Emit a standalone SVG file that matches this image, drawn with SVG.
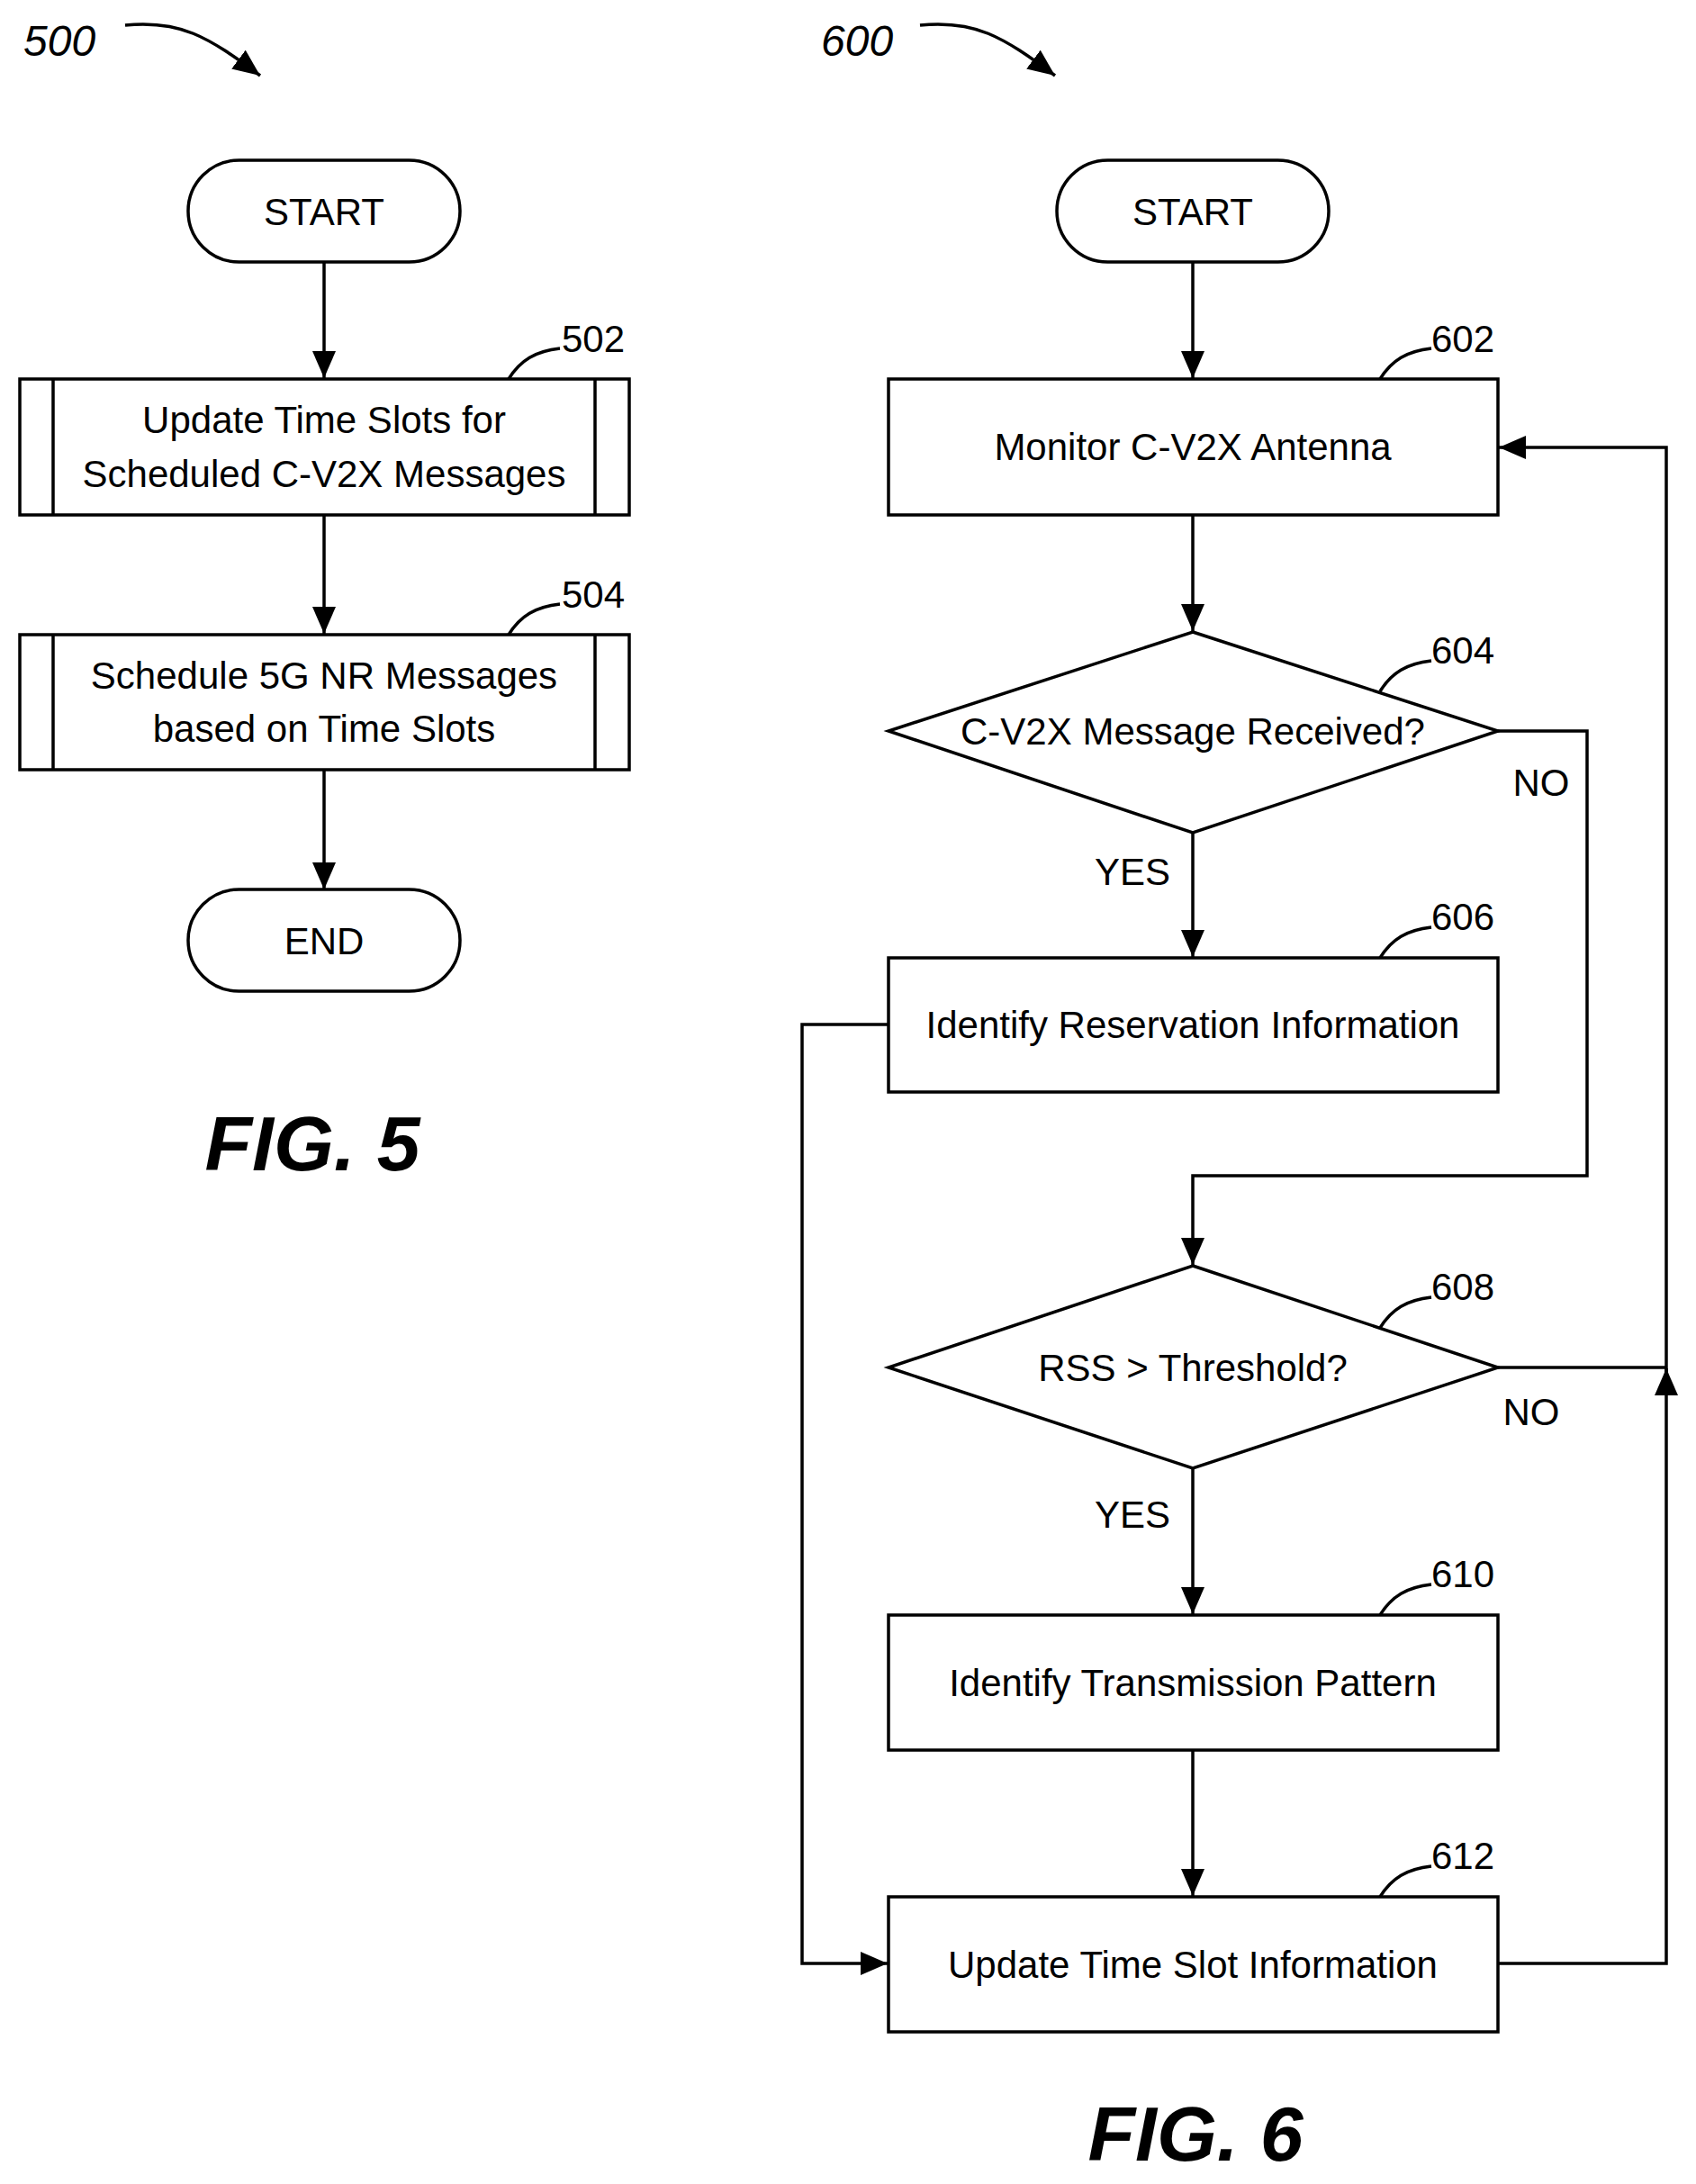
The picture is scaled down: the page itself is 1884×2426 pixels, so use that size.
<svg xmlns="http://www.w3.org/2000/svg" width="1884" height="2426" viewBox="0 0 1884 2426">
<style>
.s{fill:none;stroke:#000;stroke-width:3.5}
.b{fill:#fff;stroke:#000;stroke-width:3.5}
.t{font-family:"Liberation Sans",Arial,sans-serif;font-size:42px;text-anchor:middle;dominant-baseline:central}
.r{font-family:"Liberation Sans",Arial,sans-serif;font-size:42px;dominant-baseline:central}
.i{font-family:"Liberation Sans",Arial,sans-serif;font-size:48px;font-style:italic}
.f{font-family:"Liberation Sans",Arial,sans-serif;font-size:86px;font-style:italic;font-weight:bold;text-anchor:middle}
</style>
<defs>
<marker id="h" markerWidth="30" markerHeight="26" refX="30" refY="13" orient="auto" markerUnits="userSpaceOnUse">
<path d="M0,0 L30,13 L0,26 z" fill="#000"/>
</marker>
</defs>
<text class="i" x="26" y="62">500</text>
<text class="i" x="912" y="62">600</text>
<g id="connectors">
<path class="s" d="M139,28 C200,22 230,40 289,84" marker-end="url(#h)"/>
<path class="s" d="M1022,28 C1083,22 1113,40 1172,84" marker-end="url(#h)"/>
<path class="s" d="M360,292 V420" marker-end="url(#h)"/>
<path class="s" d="M360,572 V704" marker-end="url(#h)"/>
<path class="s" d="M360,855 V988" marker-end="url(#h)"/>
<path class="s" d="M1325,292 V420" marker-end="url(#h)"/>
<path class="s" d="M1325,572 V701" marker-end="url(#h)"/>
<path class="s" d="M1325,925 V1063" marker-end="url(#h)"/>
<path class="s" d="M1664,812 H1763 V1306 H1325 V1405" marker-end="url(#h)"/>
<path class="s" d="M987,1138 H891 V2181 H986" marker-end="url(#h)"/>
<path class="s" d="M1325,1631 V1793" marker-end="url(#h)"/>
<path class="s" d="M1325,1944 V2106" marker-end="url(#h)"/>
<path class="s" d="M1664,1519 H1851"/>
<path class="s" d="M1664,2181 H1851 V1520" marker-end="url(#h)"/>
<path class="s" d="M1851,1530 V497 H1665" marker-end="url(#h)"/>
<path class="s" d="M565,421 C578,400 595,390 622,387"/>
<path class="s" d="M565,705 C578,684 595,674 622,671"/>
<path class="s" d="M1533,421 C1546,400 1563,390 1590,387"/>
<path class="s" d="M1533,768 C1546,747 1563,737 1590,734"/>
<path class="s" d="M1533,1064 C1546,1043 1563,1033 1590,1030"/>
<path class="s" d="M1533,1475 C1546,1454 1563,1444 1590,1441"/>
<path class="s" d="M1533,1794 C1546,1773 1563,1763 1590,1760"/>
<path class="s" d="M1533,2107 C1546,2086 1563,2076 1590,2073"/>
</g>
<text class="r" x="624" y="376">502</text>
<text class="r" x="624" y="660">504</text>
<text class="r" x="1590" y="376">602</text>
<text class="r" x="1590" y="722">604</text>
<text class="r" x="1590" y="1018">606</text>
<text class="r" x="1590" y="1429">608</text>
<text class="r" x="1590" y="1748">610</text>
<text class="r" x="1590" y="2061">612</text>
<g id="start5"><rect class="b" x="209" y="178" width="302" height="113" rx="56.5"/><text class="t" x="360" y="235">START</text></g>
<g id="n502"><rect class="b" x="22" y="421" width="677" height="151"/><path class="s" d="M59,421 V572 M661,421 V572"/><text class="t" x="360" y="466">Update Time Slots for</text><text class="t" x="360" y="526">Scheduled C-V2X Messages</text></g>
<g id="n504"><rect class="b" x="22" y="705" width="677" height="150"/><path class="s" d="M59,705 V855 M661,705 V855"/><text class="t" x="360" y="750">Schedule 5G NR Messages</text><text class="t" x="360" y="809">based on Time Slots</text></g>
<g id="end5"><rect class="b" x="209" y="988" width="302" height="113" rx="56.5"/><text class="t" x="360" y="1045">END</text></g>
<text class="f" x="347" y="1300">FIG. 5</text>
<g id="start6"><rect class="b" x="1174" y="178" width="302" height="113" rx="56.5"/><text class="t" x="1325" y="235">START</text></g>
<g id="n602"><rect class="b" x="987" y="421" width="677" height="151"/><text class="t" x="1325" y="496">Monitor C-V2X Antenna</text></g>
<g id="n604"><path class="b" d="M1325,702 L1664,812 L1325,925 L987,812 Z"/><text class="t" x="1325" y="812">C-V2X Message Received?</text></g>
<text class="t" x="1712" y="869">NO</text>
<text class="t" x="1258" y="968">YES</text>
<g id="n606"><rect class="b" x="987" y="1064" width="677" height="149"/><text class="t" x="1325" y="1138">Identify Reservation Information</text></g>
<g id="n608"><path class="b" d="M1325,1406 L1664,1519 L1325,1631 L987,1519 Z"/><text class="t" x="1325" y="1519">RSS &gt; Threshold?</text></g>
<text class="t" x="1701" y="1568">NO</text>
<text class="t" x="1258" y="1682">YES</text>
<g id="n610"><rect class="b" x="987" y="1794" width="677" height="150"/><text class="t" x="1325" y="1869">Identify Transmission Pattern</text></g>
<g id="n612"><rect class="b" x="987" y="2107" width="677" height="150"/><text class="t" x="1325" y="2182">Update Time Slot Information</text></g>
<text class="f" x="1328" y="2400">FIG. 6</text>
</svg>
